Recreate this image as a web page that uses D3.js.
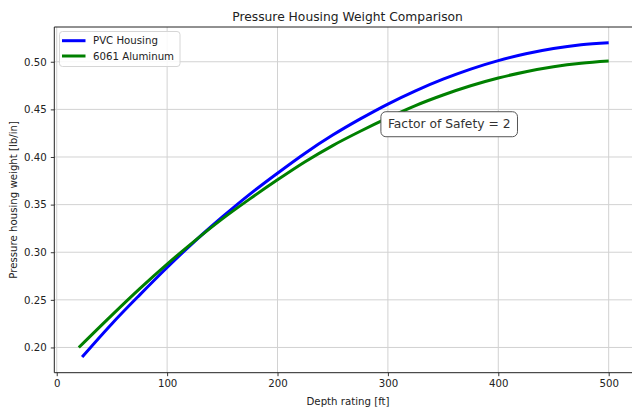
<!DOCTYPE html>
<html>
<head>
<meta charset="utf-8">
<script src="https://cdn.jsdelivr.net/npm/d3@7"></script>
<style>
  html, body { margin: 0; padding: 0; background: #fff; }
  svg { display: block; font-family: "DejaVu Sans", sans-serif; }
</style>
</head>
<body>
<svg id="chart" width="632" height="407"></svg>
<script>
// ---- data ----
const pvcDepth = [23, 50, 75, 100, 125, 150, 175, 200, 225, 250, 275, 300, 325, 350, 375, 400, 425, 450, 475, 500];
const pvcWeight = [0.190, 0.225, 0.255, 0.284, 0.3115, 0.337, 0.361, 0.383, 0.404, 0.423, 0.440, 0.4556, 0.4695, 0.4817, 0.4923, 0.5012, 0.5084, 0.5139, 0.5178, 0.520];
const alDepth = [20, 50, 75, 100, 125, 150, 175, 200, 225, 250, 275, 300, 325, 350, 375, 400, 425, 450, 475, 500];
const alWeight = [0.200, 0.234, 0.2615, 0.2875, 0.312, 0.335, 0.356, 0.376, 0.395, 0.412, 0.427, 0.441, 0.454, 0.4651, 0.4748, 0.4829, 0.4896, 0.4948, 0.4985, 0.5008];
const seriesNames = ["PVC Housing", "6061 Aluminum"];
const seriesColors = ["#0000ff", "#008000"];
const xTickValues = [0, 100, 200, 300, 400, 500];
const yTickValues = [0.20, 0.25, 0.30, 0.35, 0.40, 0.45, 0.50];
const titleText = "Pressure Housing Weight Comparison";
const xLabelText = "Depth rating [ft]";
const yLabelText = "Pressure housing weight [lb/in]";
const annotationText = "Factor of Safety = 2";
const annotationPos = [300, 0.43];

(function () {
// ---- layout ----
const svg = d3.select("#chart");
const pLeft = 54.3, pTop = 27, pBottom = 372.7, pRight = 641.8;
const x = d3.scaleLinear().domain([-2.2, 530]).range([pLeft, pRight]);
const y = d3.scaleLinear().domain([0.1735, 0.5365]).range([pBottom, pTop]);
const fs = 10.2;

// grid
const grid = svg.append("g").attr("stroke", "#d2d2d2").attr("stroke-width", 1);
xTickValues.forEach(v => grid.append("line")
  .attr("x1", x(v)).attr("x2", x(v)).attr("y1", pTop).attr("y2", pBottom));
yTickValues.forEach(v => grid.append("line")
  .attr("x1", pLeft).attr("x2", pRight).attr("y1", y(v)).attr("y2", y(v)));

// lines
const line = d3.line().x(d => x(d[0])).y(d => y(d[1])).curve(d3.curveMonotoneX);
const series = [
  pvcDepth.map((d, i) => [d, pvcWeight[i]]),
  alDepth.map((d, i) => [d, alWeight[i]])
];
series.forEach((s, i) => {
  svg.append("path").datum(s).attr("d", line)
    .attr("fill", "none").attr("stroke", seriesColors[i])
    .attr("stroke-width", 3).attr("stroke-linecap", "butt");
});

// axes
const xAxis = svg.append("g").attr("transform", `translate(0,${pBottom})`)
  .call(d3.axisBottom(x).tickValues(xTickValues).tickSize(3.5).tickPadding(3.5).tickFormat(d3.format("d")));
const yAxis = svg.append("g").attr("transform", `translate(${pLeft},0)`)
  .call(d3.axisLeft(y).tickValues(yTickValues).tickSize(3.5).tickPadding(4).tickFormat(d3.format(".2f")));
[xAxis, yAxis].forEach(a => {
  a.select(".domain").remove();
  a.selectAll(".tick line").attr("stroke", "#222").attr("stroke-width", 0.9);
  a.selectAll(".tick text").attr("fill", "#222").attr("font-size", fs)
    .attr("font-family", "DejaVu Sans");
});

// spines
const sp = svg.append("g").attr("stroke", "#222").attr("stroke-width", 1);
sp.append("line").attr("x1", pLeft).attr("x2", pLeft).attr("y1", pTop).attr("y2", pBottom);
sp.append("line").attr("x1", pLeft).attr("x2", pRight).attr("y1", pBottom).attr("y2", pBottom);
sp.append("line").attr("x1", pLeft).attr("x2", pRight).attr("y1", pTop).attr("y2", pTop);

// title & labels
svg.append("text").attr("x", (pLeft + pRight) / 2 - 0.5).attr("y", 20.5)
  .attr("text-anchor", "middle").attr("font-size", 12.3).attr("fill", "#222").text(titleText);
svg.append("text").attr("x", (pLeft + pRight) / 2).attr("y", 405)
  .attr("text-anchor", "middle").attr("font-size", fs).attr("fill", "#222").text(xLabelText);
svg.append("text").attr("transform", `translate(17,${(pTop + pBottom) / 2}) rotate(-90)`)
  .attr("text-anchor", "middle").attr("font-size", fs).attr("fill", "#222").text(yLabelText);

// legend
const lg = svg.append("g");
lg.append("rect").attr("x", 59.5).attr("y", 31.5).attr("width", 120.5).attr("height", 35)
  .attr("rx", 3).attr("fill", "#fff").attr("fill-opacity", 0.85)
  .attr("stroke", "#d6d6d6").attr("stroke-width", 1);
seriesNames.forEach((n, i) => {
  const ry = 40.7 + i * 15.3;
  lg.append("line").attr("x1", 62).attr("x2", 85.5).attr("y1", ry).attr("y2", ry)
    .attr("stroke", seriesColors[i]).attr("stroke-width", 3);
  lg.append("text").attr("x", 93).attr("y", ry + 3.7)
    .attr("font-size", fs).attr("fill", "#222").text(n);
});

// annotation
const ann = svg.append("g");
const at = ann.append("text").attr("x", x(annotationPos[0])).attr("y", y(annotationPos[1]))
  .attr("font-size", 12.3).attr("fill", "#333").text(annotationText);
const tw = at.node().getComputedTextLength();
ann.insert("rect", "text")
  .attr("x", x(annotationPos[0]) - 7).attr("y", y(annotationPos[1]) - 16.7)
  .attr("width", tw + 14).attr("height", 25).attr("rx", 5)
  .attr("fill", "#fff").attr("stroke", "#555").attr("stroke-width", 1);
})();
</script>
</body>
</html>
